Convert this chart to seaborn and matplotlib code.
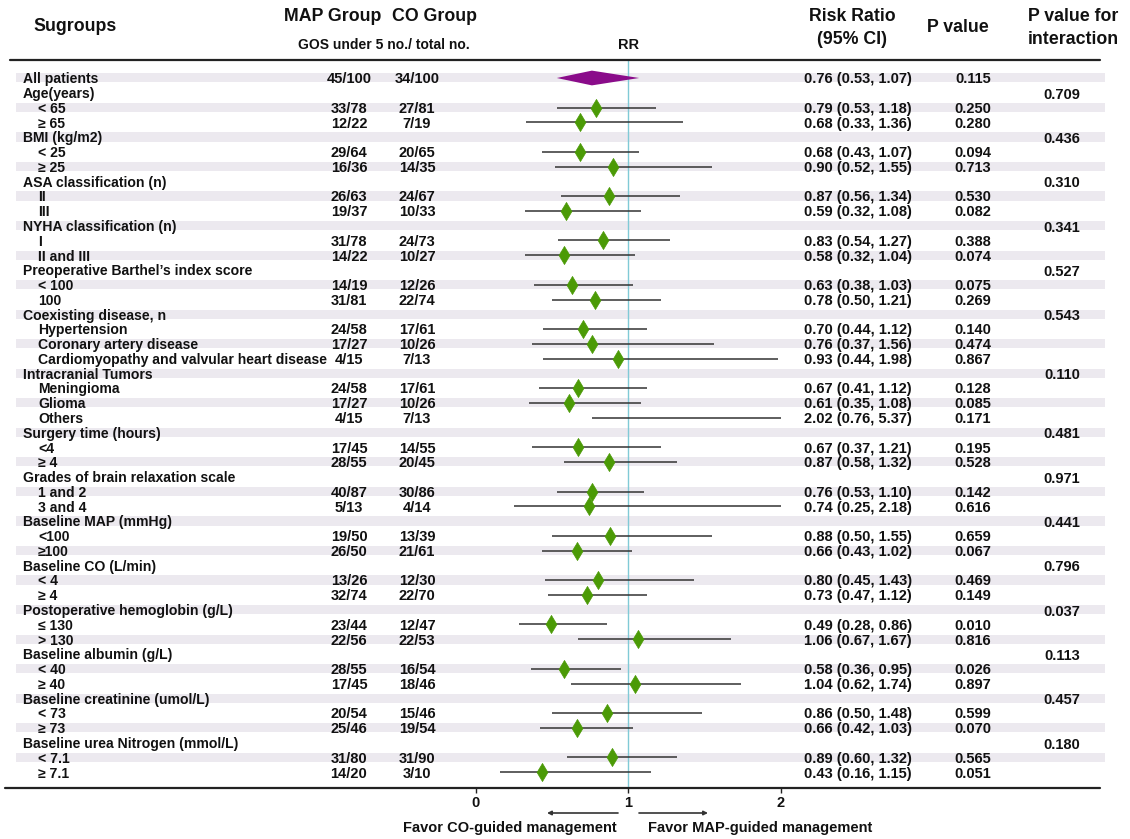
import numpy as np
import pandas as pd
import matplotlib
matplotlib.use('Agg')
import matplotlib.pyplot as plt
import seaborn as sns

nan = np.nan

labels = ['All patients', 'Age(years)', '< 65', '\u2265 65',
          'BMI (kg/m2)', '< 25', '\u2265 25',
          'ASA classification (n)', 'II', 'III',
          'NYHA classification (n)', 'I', 'II and III',
          'Preoperative Barthel\u2019s index score', '< 100', '100',
          'Coexisting disease, n', 'Hypertension', 'Coronary artery disease',
          'Cardiomyopathy and valvular heart disease',
          'Intracranial Tumors', 'Meningioma', 'Glioma', 'Others',
          'Surgery time (hours)', '<4', '\u2265 4',
          'Grades of brain relaxation scale', '1 and 2', '3 and 4',
          'Baseline MAP (mmHg)', '<100', '\u2265100',
          'Baseline CO (L/min)', '< 4', '\u2265 4',
          'Postoperative hemoglobin (g/L)', '\u2264 130', '> 130',
          'Baseline albumin (g/L)', '< 40', '\u2265 40',
          'Baseline creatinine (umol/L)', '< 73', '\u2265 73',
          'Baseline urea Nitrogen (mmol/L)', '< 7.1', '\u2265 7.1']

header_rows = [0, 1, 4, 7, 10, 13, 16, 20, 24, 27, 30, 33, 36, 39, 42, 45]

map_grp = ['45/100', '', '33/78', '12/22', '', '29/64', '16/36', '', '26/63', '19/37',
           '', '31/78', '14/22', '', '14/19', '31/81', '', '24/58', '17/27', '4/15',
           '', '24/58', '17/27', '4/15', '', '17/45', '28/55', '', '40/87', '5/13',
           '', '19/50', '26/50', '', '13/26', '32/74', '', '23/44', '22/56',
           '', '28/55', '17/45', '', '20/54', '25/46', '', '31/80', '14/20']
co_grp = ['34/100', '', '27/81', '7/19', '', '20/65', '14/35', '', '24/67', '10/33',
          '', '24/73', '10/27', '', '12/26', '22/74', '', '17/61', '10/26', '7/13',
          '', '17/61', '10/26', '7/13', '', '14/55', '20/45', '', '30/86', '4/14',
          '', '13/39', '21/61', '', '12/30', '22/70', '', '12/47', '22/53',
          '', '16/54', '18/46', '', '15/46', '19/54', '', '31/90', '3/10']

rr = [0.76, nan, 0.79, 0.68, nan, 0.68, 0.90, nan, 0.87, 0.59, nan, 0.83, 0.58,
      nan, 0.63, 0.78, nan, 0.70, 0.76, 0.93, nan, 0.67, 0.61, 2.02, nan, 0.67, 0.87,
      nan, 0.76, 0.74, nan, 0.88, 0.66, nan, 0.80, 0.73, nan, 0.49, 1.06,
      nan, 0.58, 1.04, nan, 0.86, 0.66, nan, 0.89, 0.43]
lo = [0.53, nan, 0.53, 0.33, nan, 0.43, 0.52, nan, 0.56, 0.32, nan, 0.54, 0.32,
      nan, 0.38, 0.50, nan, 0.44, 0.37, 0.44, nan, 0.41, 0.35, 0.76, nan, 0.37, 0.58,
      nan, 0.53, 0.25, nan, 0.50, 0.43, nan, 0.45, 0.47, nan, 0.28, 0.67,
      nan, 0.36, 0.62, nan, 0.50, 0.42, nan, 0.60, 0.16]
hi = [1.07, nan, 1.18, 1.36, nan, 1.07, 1.55, nan, 1.34, 1.08, nan, 1.27, 1.04,
      nan, 1.03, 1.21, nan, 1.12, 1.56, 1.98, nan, 1.12, 1.08, 5.37, nan, 1.21, 1.32,
      nan, 1.10, 2.18, nan, 1.55, 1.02, nan, 1.43, 1.12, nan, 0.86, 1.67,
      nan, 0.95, 1.74, nan, 1.48, 1.03, nan, 1.32, 1.15]

p_val = ['0.115', '', '0.250', '0.280', '', '0.094', '0.713', '', '0.530', '0.082',
         '', '0.388', '0.074', '', '0.075', '0.269', '', '0.140', '0.474', '0.867',
         '', '0.128', '0.085', '0.171', '', '0.195', '0.528', '', '0.142', '0.616',
         '', '0.659', '0.067', '', '0.469', '0.149', '', '0.010', '0.816',
         '', '0.026', '0.897', '', '0.599', '0.070', '', '0.565', '0.051']
p_inter = ['', '0.709', '', '', '0.436', '', '', '0.310', '', '', '0.341', '', '',
           '0.527', '', '', '0.543', '', '', '', '0.110', '', '', '', '0.481', '', '',
           '0.971', '', '', '0.441', '', '', '0.796', '', '', '0.037', '', '',
           '0.113', '', '', '0.457', '', '', '0.180', '', '']

rr_ticks = [0, 1, 2]

df = pd.DataFrame({'label': labels, 'map': map_grp, 'co': co_grp, 'rr': rr,
                   'lo': lo, 'hi': hi, 'p': p_val, 'pint': p_inter})
df['row'] = np.arange(len(df))

sns.set_theme(style='white')
plt.rcParams['font.family'] = ['Liberation Sans', 'DejaVu Sans']
plt.rcParams['font.weight'] = 'bold'

W, H = 1130, 839
fig = plt.figure(figsize=(W / 100, H / 100), dpi=100)
ax = fig.add_axes([0, 0, 1, 1])

# pixel layout -> data units (x in RR, y in rows)
x0, xs = 476, 152.5
y0, ys = 78, 14.77
ax.set_xlim(-x0 / xs, (W - x0) / xs)
ax.set_ylim((H - y0) / ys, -y0 / ys)
ax.axis('off')


def px(x):
    return (x - x0) / xs


def py(y):
    return (y - y0) / ys


txt = dict(fontsize=10.5, fontweight='bold', color='#111111')
lab = dict(fontsize=10.1, fontweight='bold', color='#111111')

# zebra stripes
for r in df['row']:
    if r % 2 == 0:
        ax.axhspan(r - 0.32, r + 0.30, xmin=16 / W, xmax=1105 / W,
                   color='#ECE9EF', lw=0, zorder=0)

# rules
ax.plot([px(10), px(1100)], [py(60)] * 2, color='#222222', lw=1.6)
ax.plot([px(5), px(1100)], [py(788)] * 2, color='#222222', lw=1.6)
ax.vlines(1, py(60), py(788), color='#80CAD6', lw=1.0, zorder=1)

# CI lines for subgroups (cut at right edge of the scale)
sub = df[~df['row'].isin([0]) & df['rr'].notna()]
ax.hlines(sub['row'], sub['lo'], np.minimum(sub['hi'], 2.0), color='#333333', lw=1.1, zorder=2)
shown = sub[sub['rr'] <= 2.0]
sns.scatterplot(data=shown, x='rr', y='row', marker='d', s=85, color='#4B9A06',
                edgecolor='#4B9A06', linewidth=0.5, ax=ax, zorder=3, legend=False)

# overall summary diamond
top = df.iloc[0]
ax.fill([top['lo'], top['rr'], top['hi'], top['rr']],
        [0, -0.5, 0, 0.5], color='#8A0C8A', lw=0, zorder=3)
ax.set_xlim(-x0 / xs, (W - x0) / xs)
ax.set_ylim((H - y0) / ys, -y0 / ys)

# row text
for _, d in df.iterrows():
    r = d['row']
    yb = r + 0.36
    xl = 23 if r in header_rows else 38
    ax.text(px(xl), yb, d['label'], ha='left', va='baseline', **lab)
    if d['map']:
        ax.text(px(349), yb, d['map'], ha='center', va='baseline', **txt)
        ax.text(px(417), yb, d['co'], ha='center', va='baseline', **txt)
        ax.text(px(858), yb, f"{d['rr']:.2f} ({d['lo']:.2f}, {d['hi']:.2f})",
                ha='center', va='baseline', **txt)
        ax.text(px(973), yb, d['p'], ha='center', va='baseline', **txt)
    if d['pint']:
        ax.text(px(1062), r + 0.4, d['pint'], ha='center', va='baseline', **txt)

# headers
hd = dict(fontsize=12.8, fontweight='bold', color='#111111', va='center')
ax.text(px(33), py(27), 'Sugroups', ha='left', **hd)
ax.text(px(333), py(17), 'MAP Group', ha='center', **hd)
ax.text(px(435), py(17), 'CO Group', ha='center', **hd)
ax.text(px(384), py(45), 'GOS under 5 no./ total no.', ha='center', va='center',
        fontsize=10, fontweight='bold', color='#111111')
ax.text(px(629), py(45), 'RR', ha='center', va='center',
        fontsize=10.5, fontweight='bold', color='#111111')
ax.text(px(852), py(17), 'Risk Ratio', ha='center', **hd)
ax.text(px(852), py(40), '(95% CI)', ha='center', **hd)
ax.text(px(958), py(28), 'P value', ha='center', **hd)
ax.text(px(1073), py(17), 'P value for', ha='center', **hd)
ax.text(px(1073), py(40), 'interaction', ha='center', **hd)

# x scale
ax.vlines(rr_ticks, py(788), py(793), color='#222222', lw=1.0)
for t in rr_ticks:
    ax.text(t, py(803), str(t), ha='center', va='center', **txt)

ax.annotate('', xy=(px(547), py(813)), xytext=(px(618), py(813)),
            arrowprops=dict(arrowstyle='-|>', color='#333333', lw=1.2,
                            mutation_scale=6, shrinkA=0, shrinkB=0))
ax.annotate('', xy=(px(708), py(813)), xytext=(px(639), py(813)),
            arrowprops=dict(arrowstyle='-|>', color='#333333', lw=1.2,
                            mutation_scale=6, shrinkA=0, shrinkB=0))
ax.text(px(617), py(828), 'Favor CO-guided management', ha='right', va='center', **txt)
ax.text(px(648), py(828), 'Favor MAP-guided management', ha='left', va='center', **txt)

fig.savefig('out.png', dpi=100)
